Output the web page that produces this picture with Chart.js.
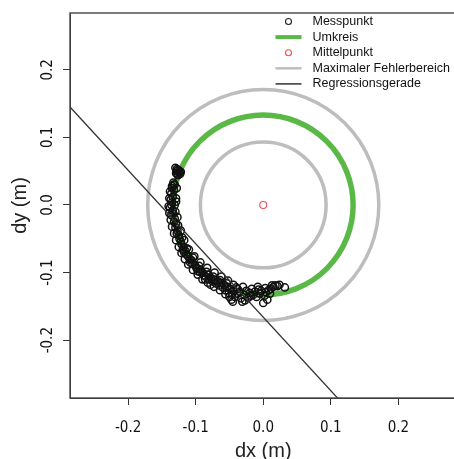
<!DOCTYPE html>
<html>
<head>
<meta charset="utf-8">
<script src="https://cdn.jsdelivr.net/npm/chart.js@4/dist/chart.umd.min.js"></script>
<style>
  html, body { margin: 0; padding: 0; background: #fff; overflow: hidden; }
  #wrap { width: 462px; height: 462px; }
</style>
</head>
<body>
<div id="wrap"><canvas id="myChart" width="462" height="462"></canvas></div>
<script>
// axis ranges and ticks
const xRange = [-0.286, 0.286];
const yRange = [-0.2855, 0.284];
const xTicks = [-0.2, -0.1, 0.0, 0.1, 0.2];
const yTicks = [-0.2, -0.1, 0.0, 0.1, 0.2];

// circles (radius in m)
const mittelpunkt = [0, 0];
const umkreisRadius = 0.133;
const fehlerRadien = [0.093, 0.171];

// regression line y = a + b*x
const regIntercept = -0.166;
const regSlope = -1.087;

// measured points
const measX = [
  -0.130,-0.128,-0.125,-0.123,-0.127,-0.124,-0.129,-0.126,
  -0.133,-0.131,-0.135,-0.132,-0.136,-0.134,-0.137,-0.135,-0.136,-0.138,-0.134,-0.133,-0.136,-0.131,-0.132,-0.129,-0.130,-0.127,-0.128,-0.125,-0.124,-0.122,-0.121,-0.118,-0.119,-0.115,-0.114,-0.111,-0.109,-0.106,-0.105,-0.101,-0.099,-0.096,-0.094,-0.090,-0.088,-0.085,-0.082,-0.080,-0.077,-0.075,-0.072,-0.070,-0.067,-0.065,-0.062,-0.060,-0.058,-0.056,-0.053,-0.051,-0.049,-0.047,-0.046,-0.044,-0.042,-0.040,-0.038,-0.035,-0.033,-0.031,-0.030,-0.028,-0.025,-0.022,-0.020,-0.017,-0.015,-0.012,-0.010,-0.007,-0.005,-0.003,0.000,0.002,0.004,0.006,0.008,0.011,0.015,0.018,0.021,0.032,
  -0.130,-0.126,-0.120,-0.113,-0.104,-0.095,-0.084,-0.074,-0.064,-0.054,-0.129,-0.131,-0.117,-0.108,-0.097,-0.086,-0.078,
  -0.138,-0.139,-0.140,-0.139,-0.137,-0.135,-0.132,-0.129,-0.125,-0.121,-0.116,-0.111,-0.104,-0.097,-0.090,-0.082,-0.073,-0.064,-0.056,
  -0.128,-0.129,-0.127,-0.122,-0.117,-0.110,-0.102,-0.093,-0.083,-0.072,-0.062,-0.052,-0.044,
  -0.050,-0.045,-0.038,-0.027,-0.018,-0.008,0.003,0.010,0.013,0.024,
  -0.126,-0.122,-0.128,-0.133,-0.135
];
const measY = [
  0.055,0.050,0.048,0.046,0.045,0.050,0.047,0.052,
  0.033,0.030,0.028,0.022,0.017,0.012,0.008,0.004,0.000,-0.004,-0.008,-0.013,-0.015,-0.020,-0.025,-0.028,-0.033,-0.038,-0.042,-0.045,-0.050,-0.054,-0.058,-0.062,-0.066,-0.068,-0.073,-0.076,-0.080,-0.082,-0.087,-0.089,-0.093,-0.095,-0.099,-0.100,-0.104,-0.106,-0.103,-0.110,-0.108,-0.113,-0.111,-0.116,-0.113,-0.119,-0.115,-0.122,-0.118,-0.126,-0.121,-0.130,-0.124,-0.140,-0.133,-0.127,-0.136,-0.122,-0.131,-0.128,-0.138,-0.143,-0.121,-0.133,-0.127,-0.137,-0.130,-0.124,-0.133,-0.128,-0.136,-0.125,-0.131,-0.127,-0.145,-0.134,-0.129,-0.140,-0.126,-0.124,-0.121,-0.119,-0.120,-0.122,
  -0.010,-0.030,-0.048,-0.064,-0.078,-0.090,-0.099,-0.106,-0.111,-0.116,0.010,0.000,-0.070,-0.085,-0.098,-0.110,-0.118,
  0.020,0.010,-0.002,-0.012,-0.022,-0.032,-0.042,-0.052,-0.062,-0.071,-0.080,-0.088,-0.096,-0.103,-0.110,-0.115,-0.121,-0.126,-0.132,
  0.025,0.005,-0.018,-0.038,-0.052,-0.066,-0.076,-0.085,-0.093,-0.100,-0.106,-0.112,-0.118,
  -0.136,-0.143,-0.124,-0.141,-0.134,-0.121,-0.123,-0.131,-0.119,-0.118,
  0.044,0.049,0.053,0.030,0.025
];

const legendLabels = ['Messpunkt', 'Umkreis', 'Mittelpunkt', 'Maximaler Fehlerbereich', 'Regressionsgerade'];

const green = '#5ab946';
const grey = '#bdbdc0';
const red = '#e8505b';
const dark = '#333333';

const tickFont = { family: "'Liberation Sans Narrow', 'DejaVu Sans Condensed', sans-serif", size: 15 };
const titleFont = { family: "'Liberation Sans', Arial, sans-serif", size: 20, lineHeight: 1 };

// rings drawn under the points, box and legend on top
const ringsPlugin = {
  id: 'rings',
  beforeDatasetsDraw(chart) {
    const ctx = chart.ctx, a = chart.chartArea;
    const xs = chart.scales.x, ys = chart.scales.y;
    const cx = xs.getPixelForValue(mittelpunkt[0]);
    const cy = ys.getPixelForValue(mittelpunkt[1]);
    function ring(r, color, w) {
      const rx = Math.abs(xs.getPixelForValue(r) - cx);
      const ry = Math.abs(ys.getPixelForValue(r) - cy);
      ctx.beginPath();
      ctx.ellipse(cx, cy, rx, ry, 0, 0, Math.PI * 2);
      ctx.strokeStyle = color;
      ctx.lineWidth = w;
      ctx.stroke();
    }
    ctx.save();
    ctx.beginPath();
    ctx.rect(a.left, a.top, a.right - a.left, a.bottom - a.top);
    ctx.clip();
    fehlerRadien.forEach(function(r){ ring(r, grey, 3.5); });
    ring(umkreisRadius, green, 5.5);
    ctx.restore();
  },
  afterDraw(chart) {
    const ctx = chart.ctx, a = chart.chartArea;
    ctx.save();
    ctx.strokeStyle = '#444';
    ctx.lineWidth = 1.4;
    ctx.strokeRect(a.left, a.top, a.right - a.left, a.bottom - a.top);
    // legend
    const symX = a.right - 168, textX = a.right - 144;
    ctx.font = '12.5px "Liberation Sans", Arial, sans-serif';
    ctx.textBaseline = 'middle';
    ctx.textAlign = 'left';
    for (var i = 0; i < legendLabels.length; i++) {
      var y = a.top + 8.5 + i * 15.6;
      ctx.beginPath();
      if (i === 0 || i === 2) {
        ctx.arc(symX, y, 3, 0, Math.PI * 2);
        ctx.strokeStyle = i === 0 ? '#222' : red;
        ctx.lineWidth = 1.1;
      } else {
        ctx.moveTo(symX - 13, y);
        ctx.lineTo(symX + 13, y);
        ctx.strokeStyle = i === 1 ? green : (i === 3 ? grey : dark);
        ctx.lineWidth = i === 1 ? 4 : (i === 3 ? 2.5 : 1.5);
      }
      ctx.stroke();
      ctx.fillStyle = '#111';
      ctx.fillText(legendLabels[i], textX, y);
    }
    ctx.restore();
  }
};

var ctx = document.getElementById('myChart').getContext('2d');
var myChart = new Chart(ctx, {
  type: 'scatter',
  data: {
    datasets: [{
      label: 'Regressionsgerade',
      type: 'line',
      data: xRange.map(function(x){ return { x: x, y: regIntercept + regSlope * x }; }),
      borderColor: dark,
      borderWidth: 1.3,
      pointRadius: 0,
      fill: false
    }, {
      label: 'Mittelpunkt',
      data: [{ x: mittelpunkt[0], y: mittelpunkt[1] }],
      pointStyle: 'circle',
      pointRadius: 3.5,
      borderWidth: 1.1,
      borderColor: red,
      backgroundColor: 'rgba(0,0,0,0)'
    }, {
      label: 'Messpunkt',
      data: measX.map(function(x, i){ return { x: x, y: measY[i] }; }),
      pointStyle: 'circle',
      pointRadius: 3.6,
      borderWidth: 1.5,
      borderColor: '#111',
      backgroundColor: 'rgba(0,0,0,0)'
    }]
  },
  options: {
    responsive: false,
    animation: false,
    devicePixelRatio: 1,
    layout: { padding: { top: 13, right: 5, left: 0, bottom: 0 } },
    plugins: { legend: { display: false }, tooltip: { enabled: false } },
    scales: {
      x: {
        type: 'linear',
        min: xRange[0], max: xRange[1],
        afterBuildTicks: function(s){ s.ticks = xTicks.map(function(v){ return { value: v }; }); },
        afterFit: function(s){ s.height = 64; },
        grid: { drawOnChartArea: false, drawTicks: true, tickLength: 7, color: dark },
        border: { color: dark, width: 1 },
        ticks: {
          font: tickFont, color: '#111', padding: 14, maxRotation: 0,
          callback: function(v){ return v.toFixed(1); }
        },
        title: { display: true, text: 'dx (m)', font: titleFont, color: '#222', padding: { top: 0, bottom: 1 } }
      },
      y: {
        type: 'linear',
        min: yRange[0], max: yRange[1],
        afterBuildTicks: function(s){ s.ticks = yTicks.map(function(v){ return { value: v }; }); },
        afterFit: function(s){ s.width = 70; },
        grid: { drawOnChartArea: false, drawTicks: true, tickLength: 7, color: dark },
        border: { color: dark, width: 1 },
        ticks: {
          font: tickFont, color: '#111', padding: 2, minRotation: 90, maxRotation: 90,
          crossAlign: 'center',
          callback: function(v){ return v.toFixed(1); }
        },
        title: { display: true, text: 'dy (m)', font: titleFont, color: '#222', padding: { top: 10, bottom: 0 } }
      }
    }
  },
  plugins: [ringsPlugin]
});
</script>
</body>
</html>
